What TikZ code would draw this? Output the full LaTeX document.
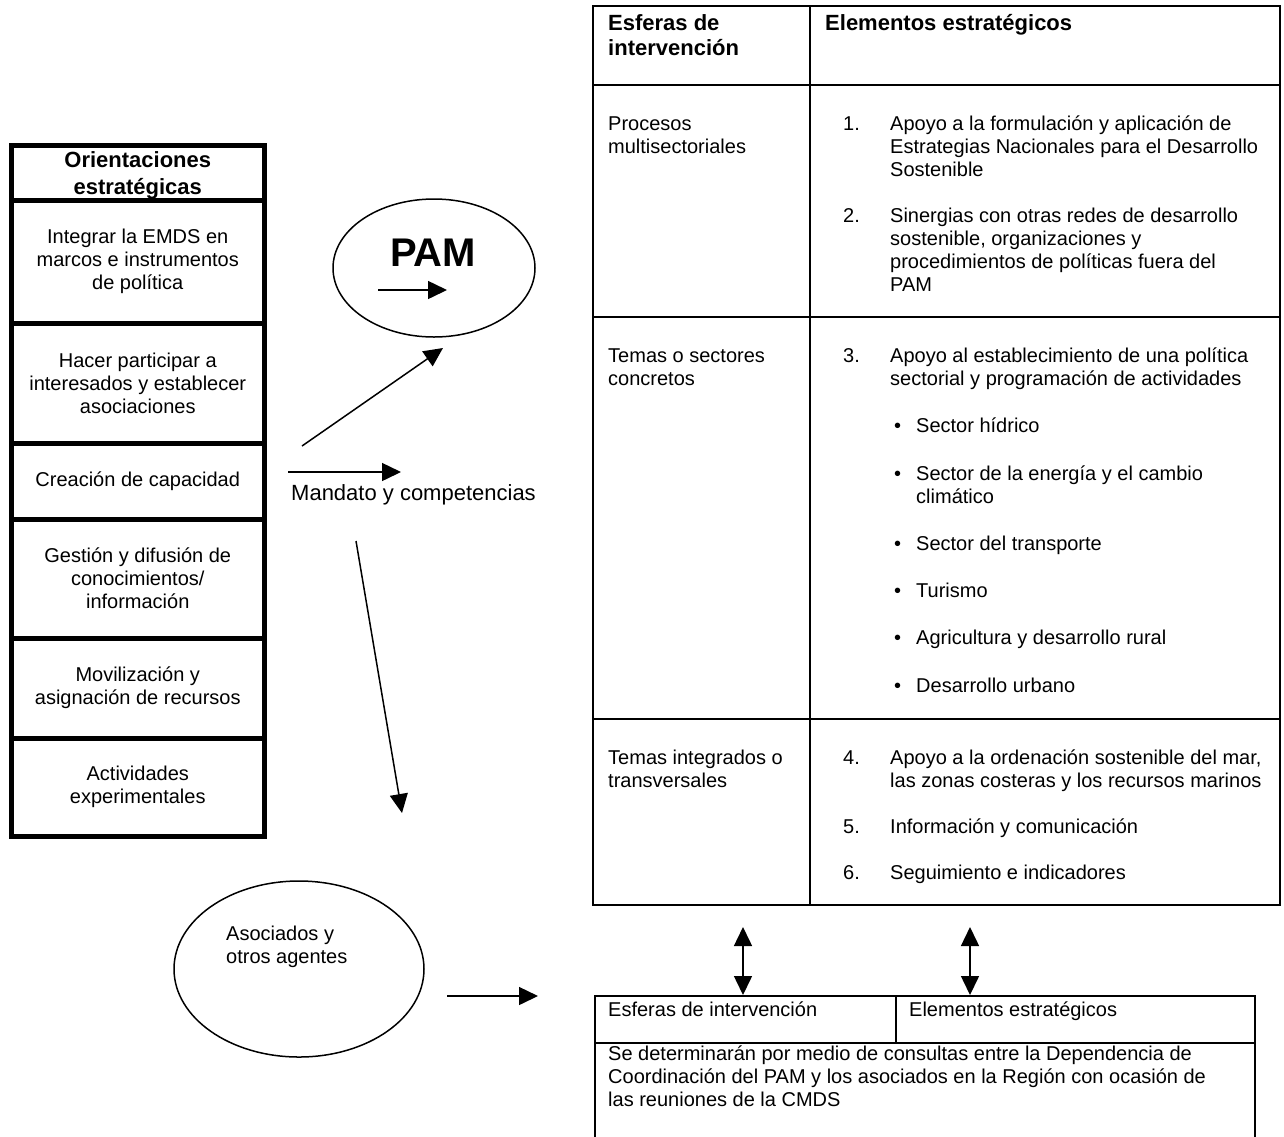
\documentclass[tikz,border=0pt]{standalone}
\usepackage{fontspec}
\setmainfont{Liberation Sans}
\usetikzlibrary{arrows.meta,shapes.geometric}
\newcommand{\mlines}[2][l]{\begin{tabular}[t]{@{}#1@{}}#2\end{tabular}}
\begin{document}
\begin{tikzpicture}[x=1pt,y=-1pt,
  thickbox/.style={draw,line width=5pt,inner sep=0pt,minimum width=252.5pt,
     align=center,font=\fontsize{20}{23}\selectfont},
  tbl/.style={line width=2pt},
  tip/.tip={Triangle[length=19pt,width=18pt]},
  conn/.style={line width=1.5pt,-tip},
  dconn/.style={line width=1.5pt,tip-tip},
  body/.style={inner sep=0pt,anchor=base west,font=\fontsize{20}{23}\selectfont},
  head/.style={inner sep=0pt,anchor=base west,font=\bfseries\fontsize{22}{25}\selectfont},
  oval/.style={draw,ellipse,line width=1.5pt,inner sep=0pt}]
\useasboundingbox (0,0) rectangle (1284,1136);

% ---------- left column: Orientaciones estrategicas ----------
\node[thickbox,minimum height=54.5pt] (o0) at (137.75,172.75) {};
\node[inner sep=0pt,anchor=base,align=center,font=\bfseries\fontsize{22}{27}\selectfont]
   (o0txt) at (137.75,167.5) {\mlines[c]{Orientaciones\\estratégicas}};
\node[thickbox,minimum height=123.5pt] (o1) at (137.75,261.75)
   {Integrar la EMDS en\\marcos e instrumentos\\de política};
\node[thickbox,minimum height=119.5pt] (o2) at (137.75,383.25)
   {Hacer participar a\\interesados y establecer\\asociaciones};
\node[thickbox,minimum height=76pt] (o3) at (137.75,481)
   {Creación de capacidad};
\node[thickbox,minimum height=119pt] (o4) at (137.75,578.5)
   {Gestión y difusión de\\conocimientos/\\información};
\node[thickbox,minimum height=100pt] (o5) at (137.75,688)
   {Movilización y\\asignación de recursos};
\node[thickbox,minimum height=98pt] (o6) at (137.75,787)
   {Actividades\\experimentales};

% ---------- PAM ellipse ----------
\node[oval,minimum width=202pt,minimum height=138pt] (pam) at (434,268) {};
\node[inner sep=0pt,anchor=base,font=\bfseries\fontsize{40}{44}\selectfont]
   (pamtxt) at (433,266) {PAM};
\coordinate (pa1) at (378,290);
\coordinate (pa2) at (447,290);
\draw[conn] (pa1) -- (pa2);

% ---------- arrows in the middle ----------
\coordinate (d1) at (302,446);
\coordinate (d2) at (443,348);
\draw[conn] (d1) -- (d2);
\coordinate (m1) at (288,472);
\coordinate (m2) at (401,472);
\draw[conn] (m1) -- (m2);
\node[inner sep=0pt,anchor=base west,font=\fontsize{22}{26}\selectfont]
   (mand) at (291,500) {Mandato y competencias};
\coordinate (v1) at (356,541);
\coordinate (v2) at (402,813);
\draw[conn] (v1) -- (v2);

% ---------- Asociados ellipse ----------
\node[oval,minimum width=250pt,minimum height=176pt] (asoc) at (299,969) {};
\node[body] (asoctxt) at (226,940) {\mlines{Asociados y\\otros agentes}};
\coordinate (a1) at (447,996);
\coordinate (a2) at (538,996);
\draw[conn] (a1) -- (a2);

% ---------- right table ----------
\draw[tbl] (593,6) rectangle (1280,905);
\draw[tbl] (810,6) -- (810,905);
\draw[tbl] (593,85) -- (1280,85);
\draw[tbl] (593,317) -- (1280,317);
\draw[tbl] (593,719) -- (1280,719);

\node[head] (h1) at (608,30) {\mlines{Esferas de\\intervención}};
\node[head] (h2) at (825,30) {Elementos estratégicos};

\node[body] (r1) at (608,130) {\mlines{Procesos\\multisectoriales}};
\node[body] (n1) at (843,130) {1.};
\node[body] (t1) at (890,130) {\mlines{Apoyo a la formulación y aplicación de\\Estrategias Nacionales para el Desarrollo\\Sostenible}};
\node[body] (n2) at (843,222) {2.};
\node[body] (t2) at (890,222) {\mlines{Sinergias con otras redes de desarrollo\\sostenible, organizaciones y\\procedimientos de políticas fuera del\\PAM}};

\node[body] (r2) at (608,362) {\mlines{Temas o sectores\\concretos}};
\node[body] (n3) at (843,362) {3.};
\node[body] (t3) at (890,362) {\mlines{Apoyo al establecimiento de una política\\sectorial y programación de actividades}};
\node[body] (b1) at (894,432) {•};
\node[body] (s1) at (916,432) {Sector hídrico};
\node[body] (b2) at (894,480) {•};
\node[body] (s2) at (916,480) {\mlines{Sector de la energía y el cambio\\climático}};
\node[body] (b3) at (894,550) {•};
\node[body] (s3) at (916,550) {Sector del transporte};
\node[body] (b4) at (894,597) {•};
\node[body] (s4) at (916,597) {Turismo};
\node[body] (b5) at (894,644) {•};
\node[body] (s5) at (916,644) {Agricultura y desarrollo rural};
\node[body] (b6) at (894,692) {•};
\node[body] (s6) at (916,692) {Desarrollo urbano};

\node[body] (r3) at (608,764) {\mlines{Temas integrados o\\transversales}};
\node[body] (n4) at (843,764) {4.};
\node[body] (t4) at (890,764) {\mlines{Apoyo a la ordenación sostenible del mar,\\las zonas costeras y los recursos marinos}};
\node[body] (n5) at (843,833) {5.};
\node[body] (t5) at (890,833) {Información y comunicación};
\node[body] (n6) at (843,879) {6.};
\node[body] (t6) at (890,879) {Seguimiento e indicadores};

% ---------- double arrows ----------
\coordinate (e1) at (743,927);
\coordinate (e2) at (743,995);
\draw[dconn] (e1) -- (e2);
\coordinate (f1) at (970,927);
\coordinate (f2) at (970,995);
\draw[dconn] (f1) -- (f2);

% ---------- bottom table ----------
\draw[tbl] (595,1145) -- (595,996) -- (1255,996) -- (1255,1145);
\draw[tbl] (896,996) -- (896,1043);
\draw[tbl] (595,1043) -- (1255,1043);
\node[body] (bh1) at (608,1016) {Esferas de intervención};
\node[body] (bh2) at (909,1016) {Elementos estratégicos};
\node[body] (btxt) at (608,1060) {\mlines{Se determinarán por medio de consultas entre la Dependencia de\\Coordinación del PAM y los asociados en la Región con ocasión de\\las reuniones de la CMDS}};
\end{tikzpicture}
\end{document}
